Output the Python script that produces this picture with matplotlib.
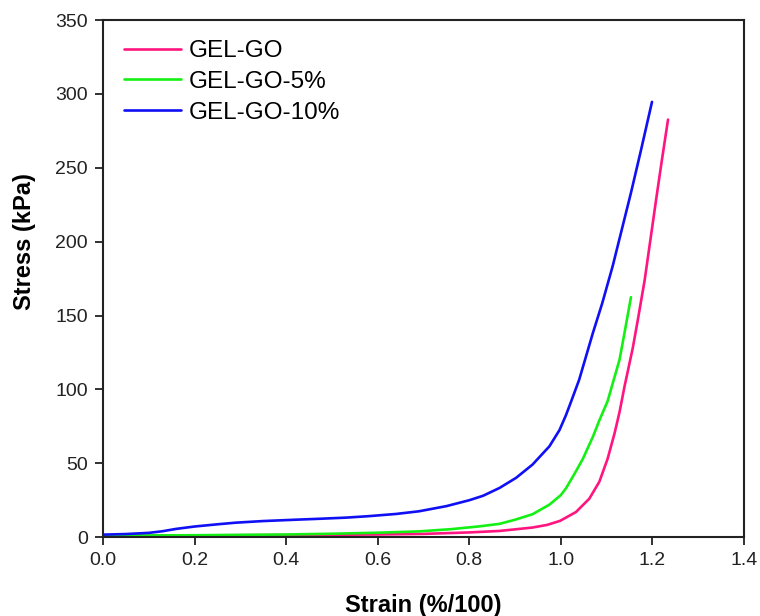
import matplotlib
matplotlib.use("Agg")
import matplotlib.pyplot as plt

plt.rcParams['font.family'] = ['Liberation Sans', 'DejaVu Sans']

# Compressive stress-strain curves
gel_go_strain = [0.00, 0.20, 0.40, 0.60, 0.70, 0.80, 0.866, 0.938, 0.97, 0.998, 1.033,
                 1.062, 1.084, 1.102, 1.117, 1.128, 1.139, 1.157, 1.168, 1.183, 1.208,
                 1.22, 1.234]
gel_go_stress = [1.0, 1.2, 1.4, 1.8, 2.2, 3.2, 4.2, 6.5, 8.3, 11.0, 17.0,
                 26.0, 37.5, 53.0, 70.0, 84.5, 102.0, 128.0, 147.0, 174.0, 228.5,
                 254.0, 282.6]

gel_go5_strain = [0.00, 0.20, 0.40, 0.50, 0.60, 0.69, 0.76, 0.822, 0.866, 0.90, 0.938,
                  0.975, 1.00, 1.011, 1.03, 1.048, 1.07, 1.084, 1.102, 1.128, 1.14, 1.153]
gel_go5_stress = [1.0, 1.3, 1.8, 2.3, 3.0, 3.9, 5.4, 7.3, 9.0, 11.8, 15.5,
                  22.0, 28.5, 33.0, 43.0, 53.0, 68.0, 79.0, 92.0, 120.0, 140.0, 162.4]

gel_go10_strain = [0.00, 0.05, 0.10, 0.13, 0.16, 0.20, 0.25, 0.29, 0.35, 0.42, 0.47,
                   0.53, 0.58, 0.64, 0.69, 0.75, 0.80, 0.83, 0.866, 0.902, 0.938, 0.975,
                   0.997, 1.011, 1.022, 1.04, 1.07, 1.09, 1.113, 1.153, 1.175, 1.199]
gel_go10_stress = [1.7, 2.1, 2.9, 4.0, 5.6, 7.2, 8.7, 9.8, 10.9, 11.8, 12.4,
                   13.2, 14.2, 15.7, 17.5, 21.0, 25.0, 28.0, 33.3, 40.1, 49.1, 61.5,
                   72.5, 82.5, 91.5, 106.6, 138.3, 158.0, 183.3, 233.0, 262.0, 294.6]

labels = ["GEL-GO", "GEL-GO-5%", "GEL-GO-10%"]
colors = ["#FF1480", "#14F014", "#1010F5"]

x_ticks = [0.0, 0.2, 0.4, 0.6, 0.8, 1.0, 1.2, 1.4]
y_ticks = [0, 50, 100, 150, 200, 250, 300, 350]

fig = plt.figure(figsize=(7.6, 6.16), dpi=100)
ax = fig.add_axes([0.1355, 0.128, 0.8435, 0.8395])

series = [(gel_go_strain, gel_go_stress), (gel_go5_strain, gel_go5_stress),
          (gel_go10_strain, gel_go10_stress)]
for (xs, ys), lab, col in zip(series, labels, colors):
    ax.plot(xs, ys, color=col, lw=1.9, label=lab,
            solid_capstyle='round', solid_joinstyle='round')

ax.set_xlim(0, 1.4)
ax.set_ylim(0, 350)
ax.set_xticks(x_ticks)
ax.set_xticklabels([f"{t:.1f}" for t in x_ticks])
ax.set_yticks(y_ticks)
ax.tick_params(axis='both', direction='out', length=6, width=1.3, labelsize=14,
               colors='#222222', pad=5)
for sp in ax.spines.values():
    sp.set_linewidth(1.5)
    sp.set_color('#222222')

ax.set_xlabel("Strain (%/100)", fontsize=17, fontweight='bold', labelpad=18)
ax.set_ylabel("Stress (kPa)", fontsize=17, fontweight='bold')
ax.yaxis.set_label_coords(-0.1045, 0.571)

ax.legend(loc='upper left', frameon=False, fontsize=17.5, handlelength=2.35,
          handletextpad=0.3, labelspacing=0.36, borderpad=0, borderaxespad=0,
          bbox_to_anchor=(0.033, 0.961))

fig.savefig("out.png", dpi=100)
